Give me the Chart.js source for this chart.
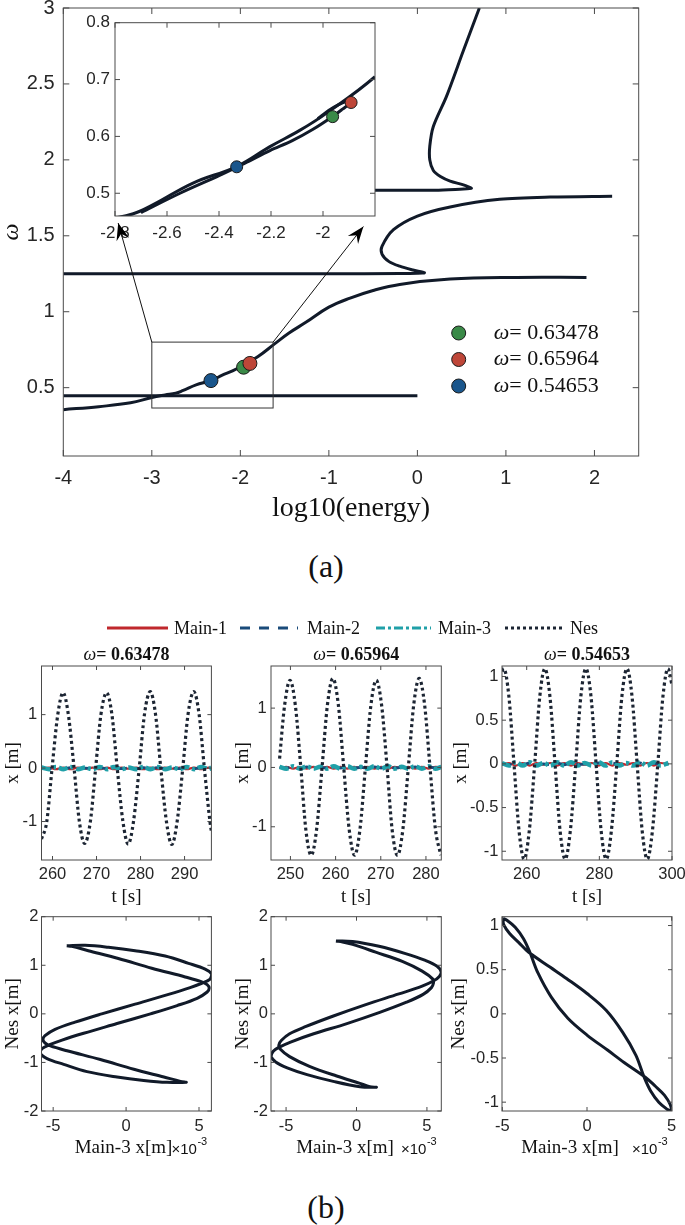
<!DOCTYPE html>
<html lang="en">
<head>
<meta charset="UTF-8">
<title>Backbone curves and responses</title>
<script src="https://cdn.jsdelivr.net/npm/chart.js"></script>
<style>
  body { margin: 0; background: #fff; }
  #fig { position: relative; width: 685px; height: 1225px; background: #fff; overflow: hidden; }
  #fig canvas { position: absolute; }
  .lab { position: absolute; font-family: 'Liberation Serif', 'Times New Roman', serif; color: #111; white-space: nowrap; line-height: 1; }
</style>
</head>
<body>
<div id="fig">
  <canvas id="mainChart" width="685" height="535" style="left:0;top:0"></canvas>
  <canvas id="insetChart" width="330" height="340" style="left:60px;top:10px"></canvas>
  <div class="lab" style="left:326px;top:566px;font-size:32px;transform:translate(-50%,-50%)">(a)</div>

  <canvas id="legendB" width="480" height="20" style="left:100px;top:618px"></canvas>
  <div class="lab" style="left:174px;top:628px;font-size:18px;transform:translateY(-50%)">Main-1</div>
  <div class="lab" style="left:307px;top:628px;font-size:18px;transform:translateY(-50%)">Main-2</div>
  <div class="lab" style="left:438px;top:628px;font-size:18px;transform:translateY(-50%)">Main-3</div>
  <div class="lab" style="left:570px;top:628px;font-size:18px;transform:translateY(-50%)">Nes</div>

  <canvas id="ts1" width="230" height="270" style="left:0;top:640px"></canvas>
  <canvas id="ts2" width="230" height="270" style="left:228.9px;top:640px"></canvas>
  <canvas id="ts3" width="238.5" height="270" style="left:446.5px;top:640px"></canvas>
  <canvas id="ph1" width="230" height="270" style="left:0;top:895px"></canvas>
  <canvas id="ph2" width="230" height="270" style="left:228.9px;top:895px"></canvas>
  <canvas id="ph3" width="238.5" height="270" style="left:446.5px;top:895px"></canvas>
  <div class="lab" style="left:326px;top:1207px;font-size:32px;transform:translate(-50%,-50%)">(b)</div>
</div>

<script>
    // ---- (a) backbone curves: log10(energy) vs omega ----
    const mainXTicks = [-4, -3, -2, -1, 0, 1, 2];
    const mainYTicks = [0.5, 1, 1.5, 2, 2.5, 3];
    const insetXTicks = [-2.8, -2.6, -2.4, -2.2, -2];
    const insetYTicks = [0.5, 0.6, 0.7, 0.8];

    // lower branch, rising through the three marked points
    const lowX = [-4.0, -3.6, -3.24, -3.0, -2.85, -2.73, -2.653, -2.5, -2.332, -2.204, -2.088, -1.986, -1.8, -1.61, -1.45, -1.26, -1.0, -0.76, -0.5, -0.2, 0.37, 1.12, 1.91];
    const lowY = [0.355, 0.375, 0.40, 0.435, 0.452, 0.464, 0.48, 0.518, 0.547, 0.582, 0.611, 0.641, 0.705, 0.79, 0.86, 0.93, 1.03, 1.09, 1.14, 1.18, 1.215, 1.226, 1.226];
    // second strand hugging the branch, with the small loop through the marked points
    const loopX = [-2.70, -2.55, -2.40, -2.30, -2.204, -2.12, -2.04, -1.963, -1.925, -1.892, -1.905, -1.94, -1.98, -2.02];
    const loopY = [0.466, 0.500, 0.531, 0.553, 0.575, 0.592, 0.612, 0.635, 0.648, 0.66, 0.662, 0.656, 0.645, 0.631];
    // flat branch at omega ~ 0.447
    const flatX = [-4.0, 0.0];
    const flatY = [0.447, 0.447];
    // branch starting at omega ~ 1.25, folding back up to ~1.76
    const midX = [-4.0, -1.0, -0.2, 0.0, 0.08, -0.05, -0.20, -0.32, -0.40, -0.40, -0.27, 0.0, 0.37, 0.93, 1.50, 2.20];
    const midY = [1.25, 1.25, 1.251, 1.253, 1.257, 1.275, 1.30, 1.33, 1.38, 1.43, 1.54, 1.63, 1.69, 1.74, 1.755, 1.76];
    // upper branch from omega ~ 1.80 up to the top
    const upX = [-2.0, -0.48, 0.2, 0.48, 0.61, 0.52, 0.37, 0.26, 0.18, 0.14, 0.14, 0.18, 0.33, 0.52, 0.70];
    const upY = [1.80, 1.80, 1.80, 1.807, 1.812, 1.835, 1.86, 1.89, 1.93, 2.0, 2.09, 2.22, 2.42, 2.72, 3.0];

    const dotLabels = ['0.63478', '0.65964', '0.54653'];
    const dotX = [-1.963, -1.892, -2.332];
    const dotY = [0.63478, 0.65964, 0.54653];
    const dotColors = ['#3a8a48', '#be4638', '#1a568c'];

    const zoomBox = [-3.0, -1.63, 0.366, 0.80];          // x0, x1, y0, y1 in data units
    const arrowTail = [[-3.0, 0.80], [-1.63, 0.80]];
    const arrowTip = [[-3.38, 1.584], [-0.61, 1.561]];

    // ---- (b) time responses ----
    const ts1T = [257.5, 258.7, 259.9, 261.2, 262.4, 263.6, 264.9, 266.1, 267.3, 268.6, 269.8, 271.0, 272.3, 273.5, 274.7, 276.0, 277.2, 278.4, 279.7, 280.9, 282.2, 283.4, 284.6, 285.9, 287.1, 288.3, 289.6, 290.8, 292.1, 293.3, 294.5, 295.8, 296.1];
    const ts1Nes = [-1.33, -1.0, 0.0, 1.0, 1.41, 1.0, 0.0, -1.0, -1.41, -1.0, 0.0, 1.0, 1.41, 1.0, 0.0, -1.0, -1.42, -1.0, 0.0, 1.01, 1.43, 1.01, 0.0, -1.01, -1.43, -1.01, 0.0, 1.01, 1.43, 1.01, 0.0, -1.02, -1.19];
    const ts2T = [247.6, 248.7, 249.9, 251.1, 252.3, 253.4, 254.6, 255.8, 257.0, 258.2, 259.4, 260.6, 261.8, 263.0, 264.2, 265.4, 266.6, 267.8, 269.0, 270.2, 271.4, 272.5, 273.7, 274.9, 276.1, 277.3, 278.5, 279.7, 280.9, 282.1, 283.3];
    const ts2Nes = [0.15, 1.04, 1.47, 1.04, 0.0, -1.04, -1.48, -1.04, 0.0, 1.06, 1.50, 1.06, 0.0, -1.04, -1.48, -1.04, 0.0, 1.04, 1.47, 1.04, 0.0, -1.04, -1.48, -1.04, 0.0, 1.06, 1.50, 1.06, 0.0, -1.04, -1.48];
    const ts3T = [253.2, 253.7, 255.1, 256.5, 257.9, 259.3, 260.7, 262.2, 263.6, 265.0, 266.4, 267.8, 269.2, 270.6, 272.0, 273.5, 274.9, 276.3, 277.7, 279.1, 280.5, 281.9, 283.3, 284.8, 286.2, 287.6, 289.0, 290.4, 291.8, 293.2, 294.6, 296.1, 297.5, 298.9, 300.0];
    const ts3Nes = [1.06, 1.09, 0.77, 0.0, -0.77, -1.09, -0.77, 0.0, 0.77, 1.09, 0.77, 0.0, -0.77, -1.09, -0.77, 0.0, 0.77, 1.09, 0.77, 0.0, -0.77, -1.09, -0.77, 0.0, 0.77, 1.09, 0.77, 0.0, -0.77, -1.09, -0.77, 0.0, 0.77, 1.09, 0.90];

    // main-structure responses stay close to zero at this scale
    const ts1MainT = [257.5, 259.2, 260.8, 262.5, 264.1, 265.8, 267.4, 269.1, 270.7, 272.4, 274.0, 275.7, 277.3, 279.0, 280.6, 282.3, 283.9, 285.6, 287.2, 288.9, 290.5, 292.2, 293.8, 295.5, 296.1];
    const ts2MainT = [247.6, 249.1, 250.6, 252.1, 253.6, 255.1, 256.6, 258.1, 259.6, 261.1, 262.6, 264.1, 265.6, 267.1, 268.6, 270.1, 271.6, 273.1, 274.6, 276.1, 277.6, 279.1, 280.6, 282.1, 283.4];
    const ts3MainT = [253.2, 255.1, 257.0, 258.9, 260.8, 262.7, 264.6, 266.5, 268.4, 270.3, 272.2, 274.1, 276.0, 277.9, 279.8, 281.7, 283.6, 285.5, 287.4, 289.3, 291.2, 293.1, 295.0, 296.9, 299.0];
    const main1 = [-0.01, 0.01, -0.02, 0.01, -0.02, 0.01, -0.01, 0.01, -0.02, 0.01, -0.02, 0.01, -0.01, 0.01, -0.02, 0.01, -0.02, 0.01, -0.01, 0.01, -0.02, 0.01, -0.02, 0.01, 0.0];
    const main2 = [0.0, -0.01, 0.01, -0.01, 0.01, -0.01, 0.0, -0.01, 0.01, -0.01, 0.01, -0.01, 0.0, -0.01, 0.01, -0.01, 0.01, -0.01, 0.0, -0.01, 0.01, -0.01, 0.01, -0.01, 0.0];
    const main3 = [0.01, -0.02, 0.02, -0.02, 0.02, -0.02, 0.01, -0.02, 0.02, -0.02, 0.02, -0.02, 0.01, -0.02, 0.02, -0.02, 0.02, -0.02, 0.01, -0.02, 0.02, -0.02, 0.02, -0.02, 0.01];

    // ---- (b) phase portraits: Main-3 (x1e-3) vs Nes ----
    const ph1X = [-4.07, -2.81, -1.21, 0.62, 2.68, 4.28, 5.42, 5.88, 5.74, 5.19, 4.39, 2.91, 0.62, -1.67, -3.50, -4.87, -5.56, -5.70, -5.56, -5.19, -4.05, -1.76, 0.53, 2.59, 3.73, 4.12, 2.81, 1.21, -0.62, -2.68, -4.28, -5.42, -5.88, -5.74, -5.19, -4.39, -2.91, -0.62, 1.67, 3.50, 4.87, 5.56, 5.70, 5.56, 5.19, 4.05, 1.76, -0.53, -2.59, -3.73, -4.07];
    const ph1Y = [1.40, 1.41, 1.37, 1.30, 1.19, 1.04, 0.92, 0.81, 0.71, 0.63, 0.54, 0.40, 0.20, 0.0, -0.17, -0.32, -0.45, -0.53, -0.60, -0.66, -0.76, -0.94, -1.14, -1.30, -1.39, -1.41, -1.41, -1.37, -1.30, -1.19, -1.04, -0.92, -0.81, -0.71, -0.63, -0.54, -0.40, -0.20, 0.0, 0.17, 0.32, 0.45, 0.53, 0.60, 0.66, 0.76, 0.94, 1.14, 1.30, 1.39, 1.40];
    const ph2X = [-1.46, -0.28, 1.60, 3.48, 4.89, 5.72, 6.02, 5.88, 5.48, 4.66, 3.01, 0.66, -1.69, -3.58, -4.75, -5.34, -5.51, -5.44, -4.75, -3.34, -1.41, 0.24, 0.94, 1.41, 0.24, -1.65, -3.51, -4.92, -5.74, -6.05, -5.91, -5.51, -4.68, -3.04, -0.68, 1.65, 3.55, 4.73, 5.32, 5.46, 5.44, 4.66, 3.25, 1.36, -0.28, -0.99, -1.46];
    const ph2Y = [1.50, 1.49, 1.39, 1.24, 1.10, 0.98, 0.86, 0.77, 0.68, 0.57, 0.41, 0.19, -0.05, -0.26, -0.41, -0.55, -0.64, -0.72, -0.88, -1.08, -1.28, -1.43, -1.50, -1.51, -1.50, -1.39, -1.25, -1.11, -0.99, -0.88, -0.77, -0.69, -0.58, -0.41, -0.20, 0.03, 0.24, 0.40, 0.54, 0.63, 0.71, 0.88, 1.08, 1.27, 1.43, 1.48, 1.50];
    const ph3X = [-4.96, -4.92, -4.57, -4.04, -3.46, -2.19, -1.21, 0.0, 1.13, 2.11, 2.89, 3.38, 3.75, 4.24, 4.73, 4.94, 4.92, 4.57, 4.04, 3.46, 2.19, 1.21, 0.0, -1.13, -2.11, -2.89, -3.38, -3.75, -4.24, -4.73, -4.96];
    const ph3Y = [1.08, 1.01, 0.91, 0.81, 0.70, 0.53, 0.40, 0.23, 0.04, -0.21, -0.47, -0.72, -0.87, -1.0, -1.08, -1.10, -1.03, -0.92, -0.82, -0.72, -0.55, -0.41, -0.24, -0.05, 0.19, 0.46, 0.70, 0.85, 0.98, 1.06, 1.08];

    const SERIF = "'Liberation Serif', 'Times New Roman', serif";
    const SANS = "'Liberation Sans', Arial, sans-serif";
    const INK = '#111a29';
    const styleMain1 = { borderColor: '#c0282d', borderWidth: 2.2 };
    const styleMain2 = { borderColor: '#1a4b7a', borderWidth: 2.8, borderDash: [10, 9] };
    const styleMain3 = { borderColor: '#20a0a8', borderWidth: 4.5, borderDash: [9, 3, 3, 3] };
    const styleNes = { borderColor: '#1c2533', borderWidth: 3.2, borderDash: [3, 3] };

    Chart.defaults.font.family = SANS;
    Chart.defaults.color = '#262626';

    const pts = (xs, ys) => xs.map((v, i) => ({ x: v, y: ys[i] }));

    function curve(xs, ys, extra) {
        return Object.assign({
            data: pts(xs, ys), showLine: true, borderColor: INK, borderWidth: 3,
            pointRadius: 0, tension: 0.4, clip: 0, order: 2
        }, extra);
    }

    // box with inward ticks on all four sides
    const frameBox = {
        id: 'frameBox',
        afterDatasetsDraw(chart, args, o) {
            const { ctx, chartArea: a, scales } = chart;
            const L = o.len || 5;
            ctx.save();
            ctx.strokeStyle = '#4a4a4a';
            ctx.lineWidth = 1;
            ctx.beginPath();
            scales.x.ticks.forEach(t => {
                const p = scales.x.getPixelForValue(t.value);
                ctx.moveTo(p, a.bottom); ctx.lineTo(p, a.bottom - L);
                ctx.moveTo(p, a.top); ctx.lineTo(p, a.top + L);
            });
            scales.y.ticks.forEach(t => {
                const p = scales.y.getPixelForValue(t.value);
                ctx.moveTo(a.left, p); ctx.lineTo(a.left + L, p);
                ctx.moveTo(a.right, p); ctx.lineTo(a.right - L, p);
            });
            ctx.stroke();
            ctx.strokeRect(a.left, a.top, a.right - a.left, a.bottom - a.top);
            ctx.restore();
        }
    };

    function axisCfg(a, dir) {
        return {
            type: 'linear', position: dir === 'x' ? 'bottom' : 'left',
            min: a.min, max: a.max,
            grid: { display: false, drawTicks: false },
            border: { display: false },
            afterBuildTicks: s => { s.ticks = a.ticks.map(v => ({ value: v })); },
            afterFit: s => {
                if (dir === 'x') s.height = a.fit; else s.width = a.fit;
                s.paddingTop = 0; s.paddingBottom = 0; s.paddingLeft = 0; s.paddingRight = 0;
            },
            ticks: { autoSkip: false, maxRotation: 0, padding: a.pad, font: { size: a.size }, callback: v => String(v) },
            title: a.title
                ? { display: true, text: a.title, color: '#111', font: a.titleFont, padding: a.titlePad }
                : { display: false }
        };
    }

    function panel(id, o) {
        return new Chart(document.getElementById(id), {
            type: 'scatter',
            data: { datasets: o.datasets },
            options: {
                responsive: false, animation: false, devicePixelRatio: 1,
                layout: { padding: { left: 0, top: o.top, right: o.right, bottom: 0 } },
                plugins: Object.assign({ legend: { display: false }, tooltip: { enabled: false }, frameBox: { len: o.tickLen } }, o.plugins || {}),
                scales: { x: axisCfg(o.x, 'x'), y: axisCfg(o.y, 'y') }
            },
            plugins: [frameBox].concat(o.extra || [])
        });
    }

    // ---------- (a) main chart ----------
    const mainExtras = {
        id: 'mainExtras',
        afterDraw(chart) {
            const { ctx, chartArea: a, scales: { x, y } } = chart;
            ctx.save();
            ctx.strokeStyle = '#333';
            ctx.lineWidth = 1;
            const x0 = x.getPixelForValue(zoomBox[0]), x1 = x.getPixelForValue(zoomBox[1]);
            const y0 = y.getPixelForValue(zoomBox[2]), y1 = y.getPixelForValue(zoomBox[3]);
            ctx.strokeRect(x0, y1, x1 - x0, y0 - y1);
            dotLabels.forEach((lab, i) => {
                const cx = a.left + 395.4, cy = a.top + 325 + i * 26.5;
                ctx.beginPath();
                ctx.arc(cx, cy, 7, 0, Math.PI * 2);
                ctx.fillStyle = dotColors[i];
                ctx.fill();
                ctx.strokeStyle = '#1a1a1a';
                ctx.stroke();
                ctx.fillStyle = '#111';
                ctx.textBaseline = 'middle';
                ctx.textAlign = 'left';
                ctx.font = 'italic 22px ' + SERIF;
                ctx.fillText('ω', a.left + 430.4, cy);
                const w = ctx.measureText('ω').width;
                ctx.font = '22px ' + SERIF;
                ctx.fillText('= ' + lab, a.left + 430.4 + w, cy);
            });
            ctx.restore();
        }
    };

    const dotSet = r => ({
        data: pts(dotX, dotY), pointRadius: r, pointBackgroundColor: dotColors,
        pointBorderColor: '#1a1a1a', pointBorderWidth: 1, showLine: false, order: 0
    });

    const mainChart = panel('mainChart', {
        top: 8, right: 46.3, tickLen: 6,
        x: { min: -4, max: 2.5, ticks: mainXTicks, fit: 79, pad: 10, size: 20,
             title: 'log10(energy)', titleFont: { family: SERIF, size: 28 }, titlePad: { top: 0, bottom: 10 } },
        y: { min: 0.05, max: 3, ticks: mainYTicks, fit: 63.3, pad: 8.7, size: 20,
             title: 'ω', titleFont: { family: SERIF, size: 24, style: 'italic' }, titlePad: { top: -3, bottom: 0 } },
        datasets: [
            curve(flatX, flatY, { tension: 0 }),
            curve(lowX, lowY),
            curve(midX, midY, { tension: 0.3 }),
            curve(upX, upY, { tension: 0.3 }),
            dotSet(7)
        ],
        extra: [mainExtras]
    });

    // ---------- (a) inset ----------
    function arrow(ctx, x0, y0, x1, y1) {
        ctx.beginPath(); ctx.moveTo(x0, y0); ctx.lineTo(x1, y1); ctx.stroke();
        const ang = Math.atan2(y1 - y0, x1 - x0), L = 17, W = 6.5;
        const c = Math.cos(ang), s = Math.sin(ang);
        ctx.beginPath();
        ctx.moveTo(x1, y1);
        ctx.lineTo(x1 - L * c + W * s, y1 - L * s - W * c);
        ctx.lineTo(x1 - 0.65 * L * c, y1 - 0.65 * L * s);
        ctx.lineTo(x1 - L * c - W * s, y1 - L * s + W * c);
        ctx.closePath();
        ctx.fill();
    }

    const insetExtras = {
        id: 'insetExtras',
        beforeDraw(chart) {
            const { ctx, chartArea: a } = chart;
            ctx.save();
            ctx.fillStyle = '#fff';
            ctx.fillRect(a.left, a.top, a.right - a.left, a.bottom - a.top);
            ctx.restore();
        },
        afterDraw(chart) {
            const ctx = chart.ctx, mx = mainChart.scales.x, my = mainChart.scales.y;
            ctx.save();
            ctx.strokeStyle = '#111';
            ctx.fillStyle = '#000';
            ctx.lineWidth = 1;
            arrowTail.forEach((t, i) => {
                arrow(ctx,
                    mx.getPixelForValue(t[0]) - 60, my.getPixelForValue(t[1]) - 10,
                    mx.getPixelForValue(arrowTip[i][0]) - 60, my.getPixelForValue(arrowTip[i][1]) - 10);
            });
            ctx.restore();
        }
    };

    panel('insetChart', {
        top: 12.7, right: 15, tickLen: 5,
        x: { min: -2.8, max: -1.8, ticks: insetXTicks, fit: 134, pad: 7, size: 17 },
        y: { min: 0.46, max: 0.8, ticks: insetYTicks, fit: 55, pad: 5, size: 17 },
        datasets: [
            curve(lowX, lowY),
            curve(loopX, loopY, { tension: 0.3 }),
            dotSet(6)
        ],
        extra: [insetExtras]
    });

    // ---------- (b) legend ----------
    (function () {
        const ctx = document.getElementById('legendB').getContext('2d');
        const items = [[7, 68, styleMain1], [140, 198, styleMain2], [276, 331, styleMain3], [405, 462, styleNes]];
        items.forEach(([x0, x1, st]) => {
            ctx.beginPath();
            ctx.strokeStyle = st.borderColor;
            ctx.lineWidth = 3;
            ctx.setLineDash(st.borderDash || []);
            ctx.moveTo(x0, 10);
            ctx.lineTo(x1, 10);
            ctx.stroke();
        });
    })();

    // ---------- (b) time responses ----------
    const tsTitle = {
        id: 'tsTitle',
        afterDraw(chart, args, o) {
            const { ctx, chartArea: a } = chart;
            ctx.save();
            const f1 = 'italic 18px ' + SERIF, f2 = 'bold 18px ' + SERIF;
            ctx.font = f1; const w1 = ctx.measureText('ω').width;
            ctx.font = f2; const w2 = ctx.measureText('= ' + o.w).width;
            const x = (a.left + a.right) / 2 - (w1 + w2) / 2, y = a.top - 11;
            ctx.fillStyle = '#111';
            ctx.textBaseline = 'middle';
            ctx.textAlign = 'left';
            ctx.font = f1; ctx.fillText('ω', x, y);
            ctx.font = f2; ctx.fillText('= ' + o.w, x + w1, y);
            ctx.restore();
        }
    };

    function tsSets(T, nes, mainT) {
        const base = { cubicInterpolationMode: 'monotone' };
        return [
            curve(mainT, main1, Object.assign({}, base, styleMain1, { order: 3 })),
            curve(mainT, main2, Object.assign({}, base, styleMain2, { order: 2 })),
            curve(mainT, main3, Object.assign({}, base, styleMain3, { order: 1 })),
            curve(T, nes, Object.assign({}, base, styleNes, { order: 0 }))
        ];
    }

    const smallTitle = (text, pad) => ({ title: text, titleFont: { family: SERIF, size: 19 }, titlePad: pad });

    panel('ts1', {
        top: 26, right: 18.6, tickLen: 4,
        x: Object.assign({ min: 257.5, max: 296.1, ticks: [260, 270, 280, 290], fit: 50, pad: 5, size: 16.5 }, smallTitle('t [s]', { top: 0, bottom: 2 })),
        y: Object.assign({ min: -1.72, max: 1.91, ticks: [-1, 0, 1], fit: 41.5, pad: 4.4, size: 16.5 }, smallTitle('x [m]', { top: 2, bottom: 0 })),
        datasets: tsSets(ts1T, ts1Nes, ts1MainT),
        plugins: { tsTitle: { w: dotLabels[0] } },
        extra: [tsTitle]
    });
    panel('ts2', {
        top: 26, right: 17.7, tickLen: 4,
        x: Object.assign({ min: 245.7, max: 283.4, ticks: [250, 260, 270, 280], fit: 50, pad: 5, size: 16.5 }, smallTitle('t [s]', { top: 0, bottom: 2 })),
        y: Object.assign({ min: -1.56, max: 1.71, ticks: [-1, 0, 1], fit: 42, pad: 4.4, size: 16.5 }, smallTitle('x [m]', { top: 2.2, bottom: 0 })),
        datasets: tsSets(ts2T, ts2Nes, ts2MainT),
        plugins: { tsTitle: { w: dotLabels[1] } },
        extra: [tsTitle]
    });
    panel('ts3', {
        top: 26, right: 13, tickLen: 4,
        x: Object.assign({ min: 253.2, max: 300, ticks: [260, 280, 300], fit: 50, pad: 5, size: 16.5 }, smallTitle('t [s]', { top: 0, bottom: 2 })),
        y: Object.assign({ min: -1.1, max: 1.12, ticks: [-1, -0.5, 0, 0.5, 1], fit: 55, pad: 3.5, size: 16.5 }, smallTitle('x [m]', { top: 3, bottom: 0 })),
        datasets: tsSets(ts3T, ts3Nes, ts3MainT),
        plugins: { tsTitle: { w: dotLabels[2] } },
        extra: [tsTitle]
    });

    // ---------- (b) phase portraits ----------
    const phLabel = {
        id: 'phLabel',
        afterDraw(chart, args, o) {
            const { ctx, chartArea: a } = chart;
            ctx.save();
            ctx.fillStyle = '#111';
            ctx.textBaseline = 'middle';
            ctx.font = '19px ' + SERIF;
            ctx.textAlign = 'center';
            ctx.fillText('Main-3 x[m]', a.left + o.dx, a.bottom + 36.7);
            ctx.textAlign = 'left';
            ctx.font = '15px ' + SANS;
            ctx.fillText('×10', a.left + 130, a.bottom + 39);
            const w = ctx.measureText('×10').width;
            ctx.font = '11px ' + SANS;
            ctx.fillText('-3', a.left + 130 + w + 0.5, a.bottom + 31);
            ctx.restore();
        }
    };

    const phSet = (xs, ys) => [curve(xs, ys, { tension: 0.35 })];

    panel('ph1', {
        top: 21.7, right: 18.6, tickLen: 4,
        x: { min: -5.8, max: 5.85, ticks: [-5, 0, 5], fit: 54, pad: 5.8, size: 16.5 },
        y: Object.assign({ min: -2, max: 2, ticks: [-2, -1, 0, 1, 2], fit: 41.5, pad: 3, size: 16.5 }, smallTitle('Nes x[m]', { top: 1.6, bottom: 0 })),
        datasets: phSet(ph1X, ph1Y),
        plugins: { phLabel: { dx: 82 } },
        extra: [phLabel]
    });
    panel('ph2', {
        top: 21.7, right: 17.7, tickLen: 4,
        x: { min: -6.07, max: 6.02, ticks: [-5, 0, 5], fit: 54, pad: 5.8, size: 16.5 },
        y: Object.assign({ min: -2, max: 2, ticks: [-2, -1, 0, 1, 2], fit: 42, pad: 3, size: 16.5 }, smallTitle('Nes x[m]', { top: 2.2, bottom: 0 })),
        datasets: phSet(ph2X, ph2Y),
        plugins: { phLabel: { dx: 74 } },
        extra: [phLabel]
    });
    panel('ph3', {
        top: 21.7, right: 13, tickLen: 4,
        x: { min: -5.02, max: 5.02, ticks: [-5, 0, 5], fit: 54, pad: 5.8, size: 16.5 },
        y: Object.assign({ min: -1.1, max: 1.1, ticks: [-1, -0.5, 0, 0.5, 1], fit: 55, pad: 3, size: 16.5 }, smallTitle('Nes x[m]', { top: 0.8, bottom: 0 })),
        datasets: phSet(ph3X, ph3Y),
        plugins: { phLabel: { dx: 68 } },
        extra: [phLabel]
    });
</script>
</body>
</html>
